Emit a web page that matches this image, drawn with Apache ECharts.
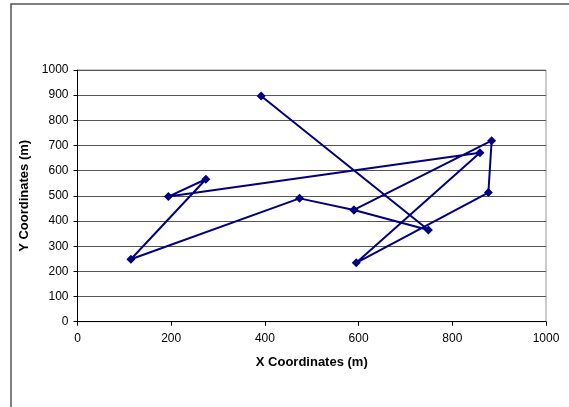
<!DOCTYPE html>
<html>
<head>
<meta charset="utf-8">
<script src="https://cdn.jsdelivr.net/npm/echarts@6/dist/echarts.min.js"></script>
<style>
  html, body { margin: 0; padding: 0; background: #fff; }
  #chart { width: 569px; height: 407px; }
</style>
</head>
<body>
<div id="chart"></div>
<script>
// route points, in the order they are joined
const xCoords = [392, 749, 590, 884, 877, 595, 859, 194, 274, 114, 474, 590];
const yCoords = [897, 364, 444, 719, 513, 234, 671, 497, 566, 248, 490, 444];

const xTicks = [0, 200, 400, 600, 800, 1000];
const yTicks = [0, 100, 200, 300, 400, 500, 600, 700, 800, 900, 1000];

const points = xCoords.map((x, i) => [x, yCoords[i]]);

const myChart = echarts.init(document.getElementById('chart'));

const fontFamily = 'Liberation Sans, Arial, sans-serif';
const labelFont = { fontFamily: fontFamily, fontSize: 12, color: '#000', formatter: v => String(v) };
const titleFont = { fontFamily: fontFamily, fontSize: 13, fontWeight: 'bold', color: '#000' };

myChart.setOption({
  animation: false,
  grid: { left: 77.5, top: 70, width: 468.5, height: 251.7, show: true, borderColor: '#999', borderWidth: 1, backgroundColor: '#fff' },
  graphic: [{
    type: 'rect',
    shape: { x: 11, y: 4, width: 600, height: 450 },
    style: { fill: 'none', stroke: '#555', lineWidth: 1.5 },
    silent: true,
    z: -1
  }],
  xAxis: {
    type: 'value',
    min: xTicks[0],
    max: xTicks[xTicks.length - 1],
    interval: 200,
    name: 'X Coordinates (m)',
    nameLocation: 'middle',
    nameGap: 34,
    nameTextStyle: titleFont,
    axisLine: { show: true, lineStyle: { color: '#000', width: 1 } },
    axisTick: { show: true, length: 4, lineStyle: { color: '#000' } },
    axisLabel: Object.assign({ margin: 11 }, labelFont),
    splitLine: { show: false }
  },
  yAxis: {
    type: 'value',
    min: yTicks[0],
    max: yTicks[yTicks.length - 1],
    interval: 100,
    name: 'Y Coordinates (m)',
    nameLocation: 'middle',
    nameGap: 44,
    nameTextStyle: titleFont,
    axisLine: { show: true, lineStyle: { color: '#000', width: 1 } },
    axisTick: { show: true, length: 4, lineStyle: { color: '#000' } },
    axisLabel: Object.assign({ margin: 9 }, labelFont),
    splitLine: { show: true, lineStyle: { color: '#555', width: 1 } }
  },
  series: [{
    type: 'line',
    data: points,
    symbol: 'diamond',
    symbolSize: 9,
    lineStyle: { color: '#000080', width: 2 },
    itemStyle: { color: '#000080' }
  }]
});
</script>
</body>
</html>
